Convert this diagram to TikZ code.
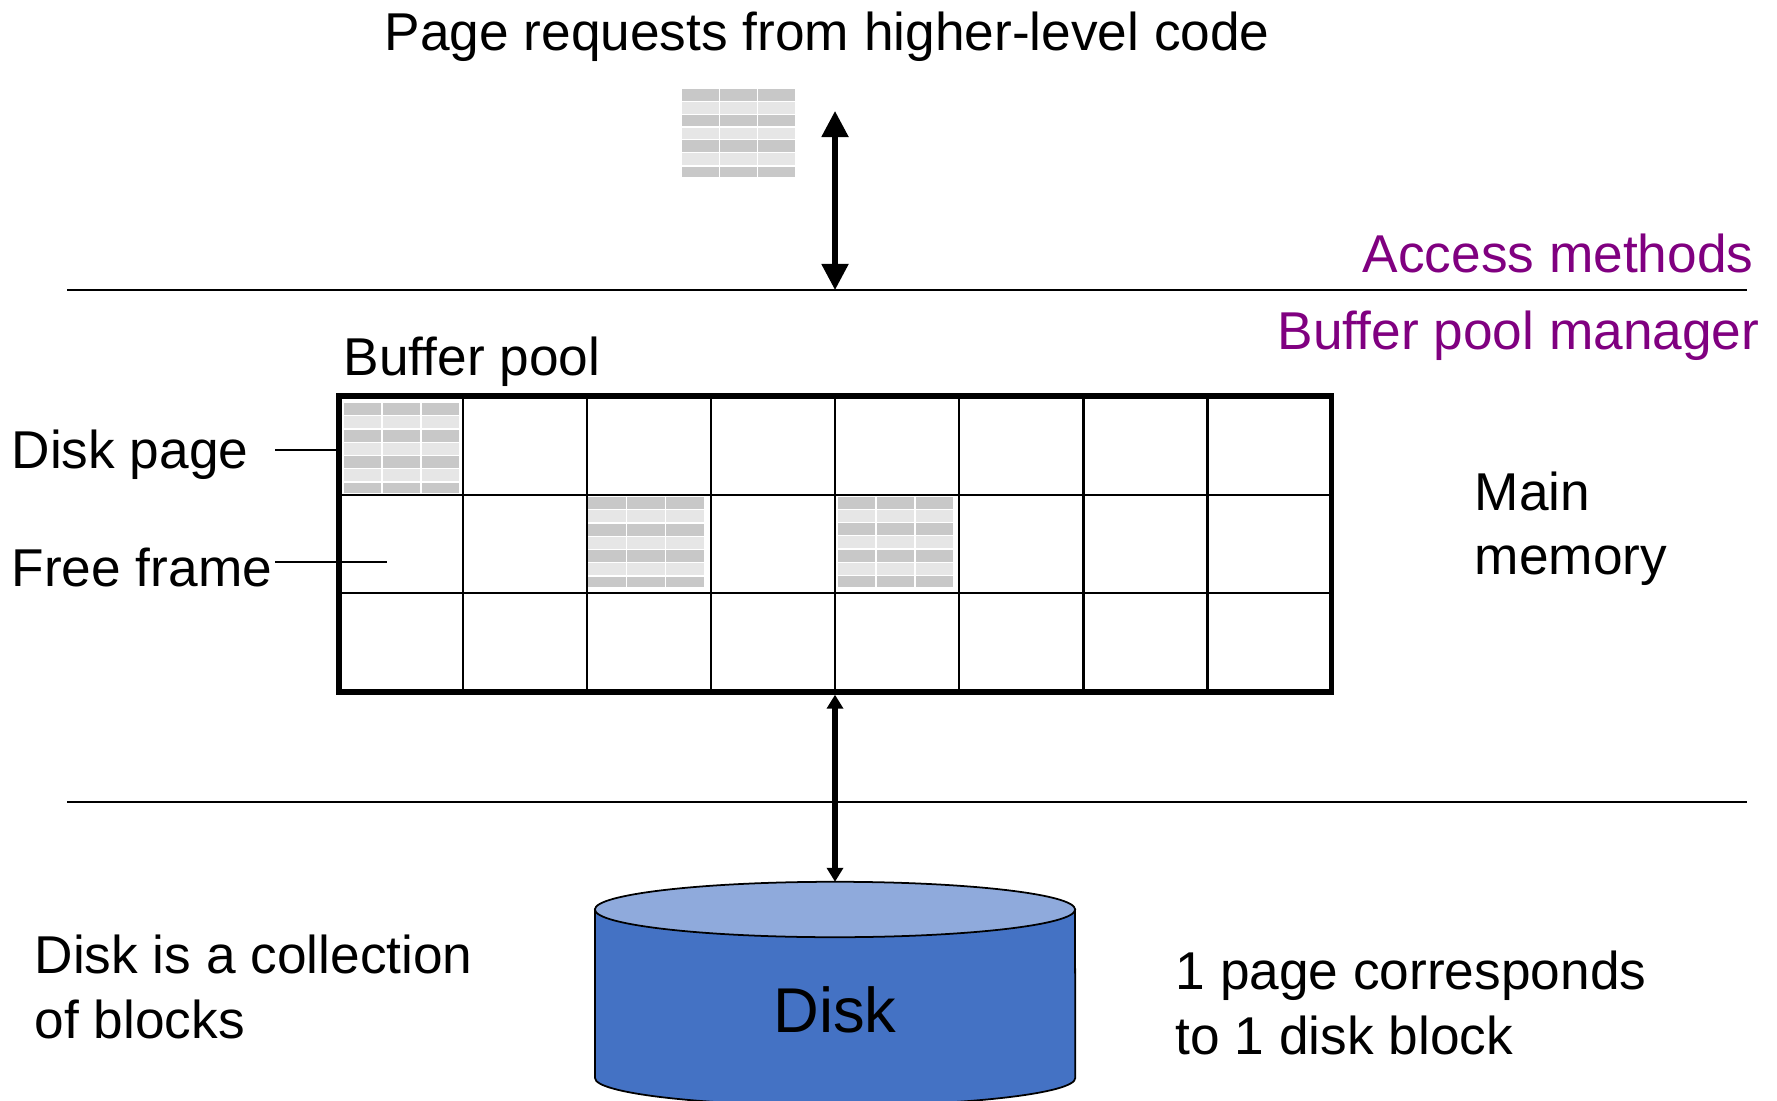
\documentclass[tikz,border=0pt]{standalone}
\usepackage{fontspec}
\setmainfont{Liberation Sans}
\usetikzlibrary{arrows.meta,calc,shapes.geometric}
\definecolor{bandDark}{HTML}{C8C8C8}
\definecolor{bandLight}{HTML}{E6E6E6}
\definecolor{layerPurple}{HTML}{800080}
\definecolor{diskBody}{HTML}{4472C4}
\definecolor{diskTop}{HTML}{8FAADC}
% a small table picture: top left corner, width, height
\newcommand{\pagetable}[4]{%
  \begin{scope}[shift={(#1,#2)}, x=#3*0.01cm/115.5, y=#4*-0.01cm/90]
  \foreach \row [count=\i from 0] in {0,13.1,26.3,39.4,52.6,65.7,79.5} {
    \ifodd\i \def\band{bandLight}\else\def\band{bandDark}\fi
    \foreach \col in {0,39,78}
      \fill[\band] (\col,\row) rectangle ++(37.5,{\i==6 ? 10.5 : 12});
  }
  \end{scope}}
\begin{document}
\begin{tikzpicture}
[ x=0.01cm, y=-0.01cm
, label/.style={font=\fontsize{15.14}{18.35}\selectfont, anchor=base west, inner sep=0pt, align=left}
, layer/.style={font=\fontsize{15.14}{18.35}\selectfont, text=layerPurple, anchor=base east, inner sep=0pt}
, rule/.style={line width=0.6pt}
, lead/.style={line width=0.6pt}
, cell/.style={line width=0.6pt}
, bigarrow/.style={line width=1.45pt, {Triangle[length=0.26cm,width=0.26cm]}-{Triangle[length=0.26cm,width=0.26cm]}}
, smallarrow/.style={line width=1.5pt, {Triangle[length=0.14cm,width=0.16cm]}-{Triangle[length=0.14cm,width=0.16cm]}}
, lid/.style={ellipse, draw, line width=0.5pt, fill=diskTop, minimum width=4.8cm, minimum height=0.554cm, inner sep=0pt, outer sep=0pt}
]
\clip (0,0) rectangle (1777,1101);
\fill[white] (0,0) rectangle (1777,1101);
% the three levels
\node (request) [label] at (384,51) {Page requests from higher-level code};
\node (access) [layer] at (1754,273) {Access methods};
\node (manager) [layer] at (1760,350) {Buffer pool manager};
\node (title) [label] at (343,376) {Buffer pool};
\node (page) [label] at (11,469) {Disk page};
\node (free) [label] at (11,587) {Free frame};
\node (main) [label] at (1474,575) {Main\\memory};
\node (blocks) [label] at (34,1038) {Disk is a collection\\of blocks};
\node (corresp) [label] at (1175,1054) {1 page corresponds\\to 1 disk block};
\coordinate (ruleAL) at (67,290);
\coordinate (ruleAR) at (1747,290);
\coordinate (ruleBL) at (67,802);
\coordinate (ruleBR) at (1747,802);
\draw [rule] (ruleAL) -- (ruleAR);
\draw [rule] (ruleBL) -- (ruleBR);
\pagetable{682.3}{89}{112.7}{88}
% buffer pool
\pagetable{344}{403.3}{115}{90}
\pagetable{588.3}{497.3}{115.5}{90}
\pagetable{837.7}{497}{115.5}{90}
\node (pool) [minimum width=9.92cm, minimum height=2.96cm, inner sep=0pt, outer sep=0pt, anchor=north west] at (339,396) {};
\foreach \k in {1,...,7}
  \draw [cell] ($(pool.north west)!\k/8!(pool.north east)$) -- ($(pool.south west)!\k/8!(pool.south east)$);
\foreach \k in {1,2}
  \draw [cell] ($(pool.north west)!\k/3!(pool.south west)$) -- ($(pool.north east)!\k/3!(pool.south east)$);
\draw [line width=1.6pt] (pool.north west) rectangle (pool.south east);
\coordinate (pageEnd) at (275,450);
\coordinate (pageTip) at (339,450);
\coordinate (freeEnd) at (275,562);
\coordinate (freeTip) at (387,562);
\draw [lead] (pageEnd) -- (pageTip);
\draw [lead] (freeEnd) -- (freeTip);
% disk
\draw [line width=0.5pt, fill=diskBody] (595,909.5) -- (595,1078) arc [start angle=180, end angle=360, x radius=2.4cm, y radius=0.277cm] -- (1075,909.5) -- cycle;
\node (disktop) [lid] at (835,909.5) {};
\node (disktext) [font=\fontsize{18}{21}\selectfont, anchor=base, inner sep=0pt] at (835,1032) {Disk};
\coordinate (topTip) at (835,111);
\coordinate (topEnd) at (835,290);
\coordinate (poolFoot) at (835,694.7);
\draw [bigarrow] (topTip) -- (topEnd);
\draw [smallarrow] (poolFoot) -- (disktop.north);
\end{tikzpicture}
\end{document}
